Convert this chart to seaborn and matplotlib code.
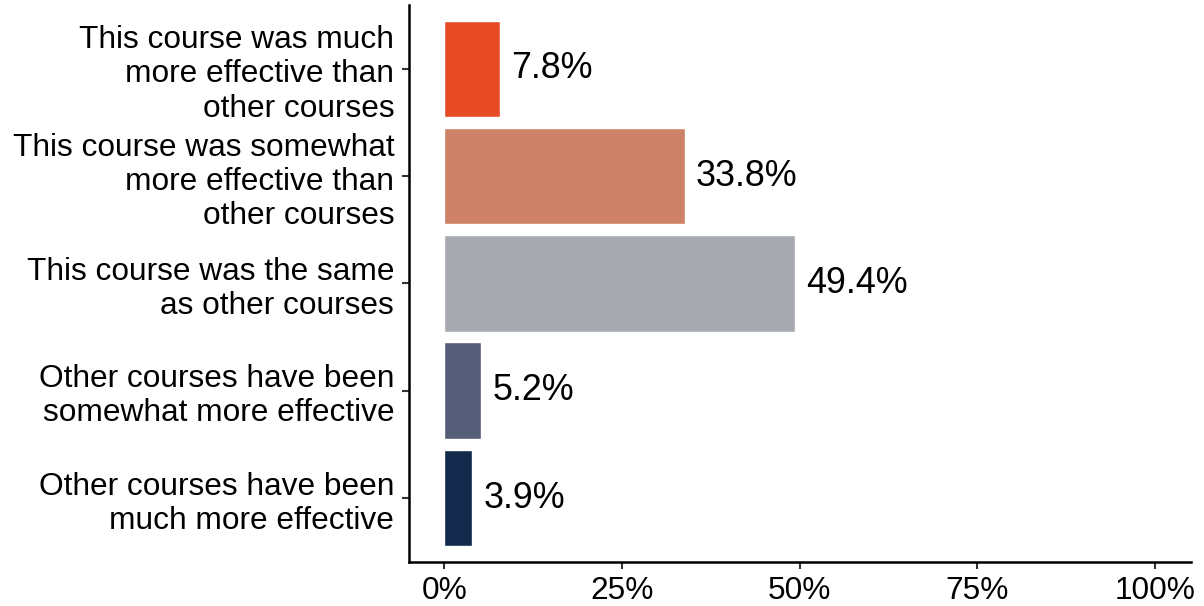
import pandas as pd
import matplotlib.pyplot as plt
import seaborn as sns

# Survey responses: course effectiveness compared with other courses
categories = [
    "This course was much\nmore effective than\nother courses",
    "This course was somewhat\nmore effective than\nother courses",
    "This course was the same\nas other courses",
    "Other courses have been\nsomewhat more effective",
    "Other courses have been\nmuch more effective",
]
shares = [7.8, 33.8, 49.4, 5.2, 3.9]
bar_colors = ["#E64B26", "#CD8267", "#A7ABAF", "#565D78", "#142A4C"]
tick_values = [0, 25, 50, 75, 100]
tick_labels = ["0%", "25%", "50%", "75%", "100%"]

df = pd.DataFrame({"response": categories, "share": shares})

sns.set_style("white")
plt.rcParams["font.family"] = ["Liberation Sans", "DejaVu Sans"]

fig = plt.figure(figsize=(12.04, 6.06), dpi=100)
ax = fig.add_axes([0.3395, 0.072, 0.6495, 0.9205])

sns.barplot(data=df, x="share", y="response", hue="response", order=categories,
            palette=bar_colors, width=0.9, orient="h", legend=False,
            saturation=1, ax=ax)

# value labels to the right of each bar
for i, v in enumerate(shares):
    ax.annotate(f"{v}%", xy=(v, i), xytext=(8, 0), textcoords="offset points",
                ha="left", va="center", fontsize=25.8, color="black")

ax.set_xlim(-5, 105)
ax.set_ylim(4.6, -0.6)
ax.set_xticks(tick_values)
ax.set_xticklabels(tick_labels)
ax.set_xlabel("")
ax.set_ylabel("")

for side in ["top", "right"]:
    ax.spines[side].set_visible(False)
for side in ["left", "bottom"]:
    ax.spines[side].set_linewidth(1.8)
    ax.spines[side].set_color("black")

ax.tick_params(axis="both", which="major", length=5, width=1.5, color="#333333",
               labelsize=22.8, labelcolor="black", direction="out")
ax.tick_params(axis="y", pad=5.5)
ax.tick_params(axis="x", pad=4.5)
ax.tick_params(left=True, bottom=True)
for lbl in ax.get_yticklabels():
    lbl.set_linespacing(1.18)
    lbl.set_multialignment("right")

fig.savefig("out.png", dpi=100)
